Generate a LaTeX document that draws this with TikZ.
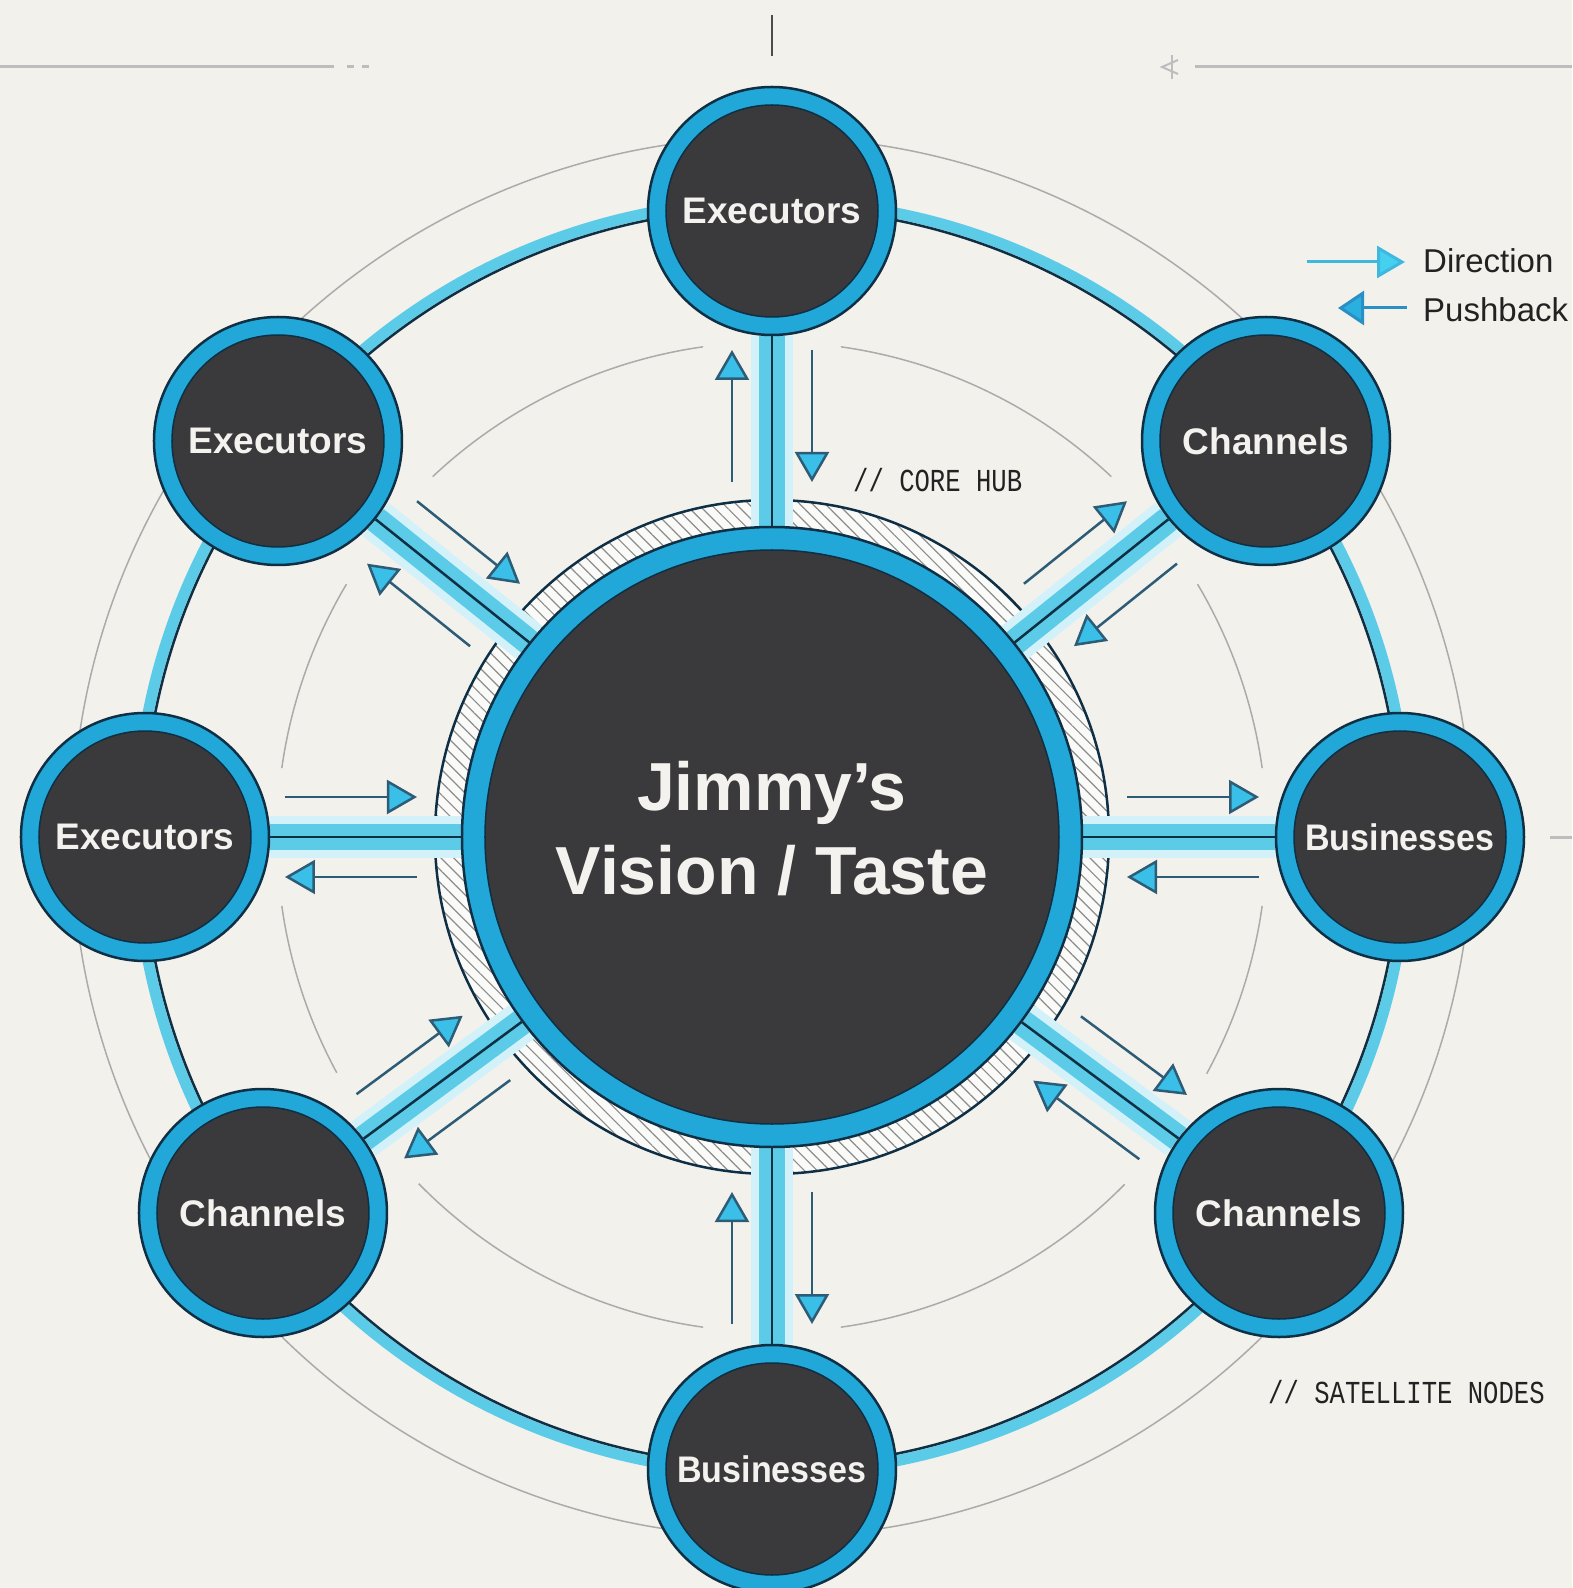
\documentclass[tikz,border=0pt]{standalone}
\usepackage{fontspec}
\setmainfont{Liberation Sans}
\newfontfamily\monofont{Liberation Mono}
\usepackage{graphicx}
\usetikzlibrary{calc,arrows.meta,patterns.meta}
\definecolor{bg}{HTML}{F3F1EC}
\definecolor{darkfill}{HTML}{3A3A3C}
\definecolor{ringblue}{HTML}{22A8D8}
\definecolor{outl}{HTML}{0E2F44}
\definecolor{bandc}{HTML}{5BCBE8}
\definecolor{glowc}{HTML}{D2F1F9}
\definecolor{arrline}{HTML}{2D5C76}
\definecolor{arrfill}{HTML}{3ABFE8}
\definecolor{graycirc}{HTML}{ABABAB}
\definecolor{decogray}{HTML}{BDBDBD}
\definecolor{txtwhite}{HTML}{F4F2EE}
\definecolor{txtdark}{HTML}{222222}
\definecolor{hatchbg}{HTML}{FAFAF8}
\definecolor{hatchgray}{HTML}{8C8C8C}
\definecolor{dirline}{HTML}{3FB8E0}
\definecolor{dirfill}{HTML}{45D0F0}
\definecolor{pushline}{HTML}{2A8FC5}
\definecolor{pushfill}{HTML}{2AB0E0}
\pgfdeclarelayer{back}
\pgfsetlayers{back,main}
\begin{document}
\begin{tikzpicture}[x=1pt,y=1pt,
  sat/.style={circle, minimum size=248pt, inner sep=0pt, fill=ringblue, draw=outl, line width=2.5pt,
    text=txtwhite, font=\bfseries\fontsize{37}{44}\selectfont,
    path picture={\fill[darkfill] (path picture bounding box.center) circle (106pt);
      \draw[outl, line width=1.5pt] (path picture bounding box.center) circle (106pt);}},
  hubst/.style={circle, minimum size=620pt, inner sep=0pt, fill=ringblue, draw=outl, line width=2.5pt,
    path picture={\fill[darkfill] (path picture bounding box.center) circle (287pt);
      \draw[outl, line width=1.5pt] (path picture bounding box.center) circle (287pt);}},
  hubtext/.style={text=txtwhite, font=\bfseries\fontsize{68}{80}\selectfont, anchor=base, inner sep=0pt},
  monotext/.style={text=txtdark, font=\monofont\fontsize{32}{38}\selectfont, anchor=base west, inner sep=0pt},
  legtext/.style={text=txtdark, font=\fontsize{33}{40}\selectfont, anchor=base west, inner sep=0pt},
  spokeglow/.style={glowc, line width=42pt},
  spokeband/.style={bandc, line width=26pt},
  spokeline/.style={outl, line width=2.5pt},
  arr/.style={arrline, line width=2.5pt, -{Triangle[length=30pt,width=34pt,fill=arrfill]}},
  thingray/.style={graycirc, line width=1.5pt},
  deco/.style={decogray, line width=3pt}
]
\useasboundingbox (-772,-751) rectangle (800,837);

% nodes
\node[hubst] (hub) at (0,0) {};
\node[hubtext] (t1) at (0,27) {Jimmy’s};
\node[hubtext] (t2) at (0,-57) {Vision / Taste};

\node[sat] (sT)  at (0,626)     {Executors};
\node[sat] (sTR) at (494,396)   {Channels};
\node[sat] (sR)  at (628,0)     {\scalebox{0.92}[1]{Businesses}};
\node[sat] (sBR) at (507,-376)  {Channels};
\node[sat] (sB)  at (0,-632)    {\scalebox{0.92}[1]{Businesses}};
\node[sat] (sBL) at (-509,-376) {Channels};
\node[sat] (sL)  at (-627,0)    {Executors};
\node[sat] (sTL) at (-494,396)  {Executors};

% labels
\node[monotext] (corehub) at (81,345) {\scalebox{0.8}[1]{// CORE HUB}};
\node[monotext] (satnodes) at (496,-566) {\scalebox{0.8}[1]{// SATELLITE NODES}};

% legend
\coordinate (d1) at (535,575);
\coordinate (d2) at (633,575);
\coordinate (p1) at (635,529);
\coordinate (p2) at (566,529);
\draw[dirline, line width=3pt, -{Triangle[length=28pt,width=32pt,fill=dirfill]}] (d1) -- (d2);
\draw[pushline, line width=3pt, -{Triangle[length=26pt,width=34pt,fill=pushfill]}] (p1) -- (p2);
\node[legtext] (ldir) at (651,564) {Direction};
\node[legtext] (lpush) at (651,515) {Pushback};

\begin{pgfonlayer}{back}
  \fill[bg] (-772,-751) rectangle (800,837);
  % top decorations
  \coordinate (ta) at (-772,770);
  \coordinate (tb) at (-438,770);
  \draw[deco] (ta) -- (tb);
  \draw[deco] (-425,770) -- (-418,770);
  \draw[deco] (-410,770) -- (-403,770);
  \coordinate (va) at (0,822);
  \coordinate (vb) at (0,781);
  \draw[black!70, line width=2pt] (va) -- (vb);
  \coordinate (ra) at (423,770);
  \coordinate (rb) at (800,770);
  \draw[deco] (ra) -- (rb);
  \draw[decogray, line width=2pt] (406,777) -- (390,770) -- (406,763);
  \draw[decogray, line width=1.5pt] (400,782) -- (400,758);
  \coordinate (ea) at (778,0);
  \coordinate (eb) at (800,0);
  \draw[deco] (ea) -- (eb);

  % thin gray circles
  \draw[thingray] (0,0) circle (700pt);
  \foreach \a/\b in {0/38.72, 38.72/90, 90/141.28, 141.28/180, 180/216.45, 216.45/270, 270/323.44, 323.44/360}
    \draw[thingray] ({\a+8}:495) arc[start angle={\a+8}, end angle={\b-8}, radius=495pt];

  % outer ring
  \draw[bandc, line width=11pt] (0,0) circle (636pt);
  \draw[outl, line width=2.5pt] (0,0) circle (629pt);

  % hatch ring
  \fill[hatchbg, even odd rule] (0,0) circle (337pt) (0,0) circle (309pt);
  \fill[even odd rule, pattern={Lines[angle=-45,distance=9pt,line width=1.2pt]}, pattern color=hatchgray]
    (0,0) circle (337pt) (0,0) circle (309pt);
  \draw[outl, line width=2.5pt] (0,0) circle (337pt);

  % spokes and arrows
  \foreach \s in {sT,sTR,sR,sBR,sB,sBL,sL,sTL} {
    \draw[spokeglow] (hub) -- (\s);
    \draw[spokeband] (hub) -- (\s);
    \draw[spokeline] (hub) -- (\s);
    \draw[arr] ($(hub)!355pt!(\s)!40pt!90:(\s)$) -- ($(hub)!487pt!(\s)!40pt!90:(\s)$);
    \draw[arr] ($(hub)!487pt!(\s)!40pt!-90:(\s)$) -- ($(hub)!355pt!(\s)!40pt!-90:(\s)$);
  }
\end{pgfonlayer}
\end{tikzpicture}
\end{document}
